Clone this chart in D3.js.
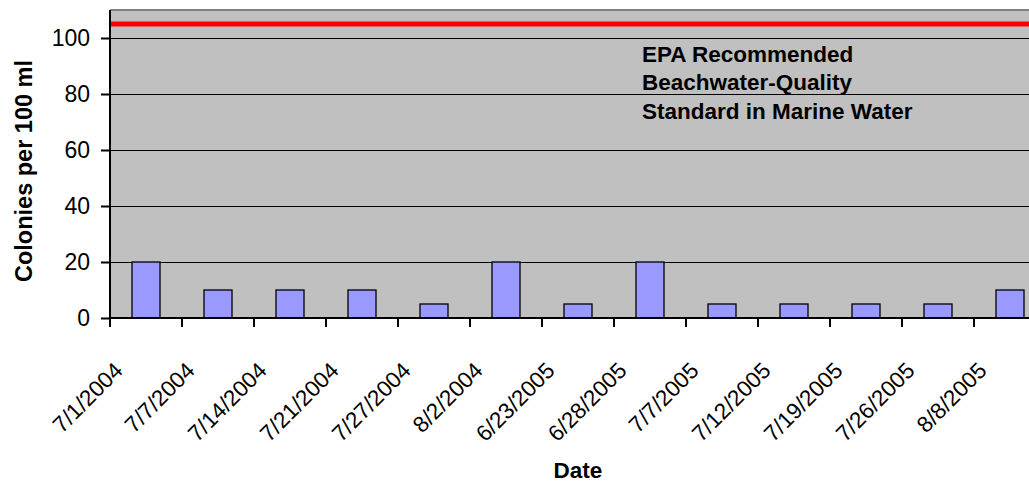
<!DOCTYPE html>
<html><head><meta charset="utf-8">
<script src="https://cdn.jsdelivr.net/npm/d3@7/dist/d3.min.js"></script>
<style>
html,body{margin:0;padding:0;background:#fff;overflow:hidden;}
svg{display:block;font-family:"Liberation Sans",Arial,sans-serif;}
</style></head>
<body>
<script>
const categories = ["7/1/2004","7/7/2004","7/14/2004","7/21/2004","7/27/2004","8/2/2004","6/23/2005","6/28/2005","7/7/2005","7/12/2005","7/19/2005","7/26/2005","8/8/2005"];
const colonies = [20,10,10,10,5,20,5,20,5,5,5,5,10];
const yTicks = [0,20,40,60,80,100];
const standardValue = 105;
const annotationLines = ["EPA Recommended","Beachwater-Quality","Standard in Marine Water"];
const yTitle = "Colonies per 100 ml";
const xTitle = "Date";

(function () {
const W = 1029, H = 482;
const pL = 110, pR = 1046, pT = 10, pB = 318;

const svg = d3.select("body").append("svg").attr("width", W).attr("height", H);

const x = d3.scaleBand().domain(categories).range([pL, pR]).paddingInner(0.611).paddingOuter(0.3055);
const y = d3.scaleLinear().domain([0, 110]).range([pB, pT]);

// plot background
svg.append("rect").attr("x", pL).attr("y", pT).attr("width", pR - pL).attr("height", pB - pT)
  .attr("fill", "#C0C0C0");
svg.append("line").attr("x1", pL).attr("x2", pR).attr("y1", pT).attr("y2", pT)
  .attr("stroke", "#808080").attr("stroke-width", 2);

// gridlines
svg.append("g").selectAll("line").data(yTicks.filter(d => d > 0)).join("line")
  .attr("x1", pL).attr("x2", pR).attr("y1", d => y(d) + 0.5).attr("y2", d => y(d) + 0.5)
  .attr("stroke", "#000").attr("stroke-width", 1).attr("shape-rendering", "crispEdges");

// bars
svg.append("g").selectAll("rect").data(colonies).join("rect")
  .attr("x", (d, i) => x(categories[i]))
  .attr("y", d => y(d))
  .attr("width", x.bandwidth())
  .attr("height", d => y(0) - y(d))
  .attr("fill", "#9999FF").attr("stroke", "#000").attr("stroke-width", 1.3);

// standard line
svg.append("line").attr("x1", pL).attr("x2", pR).attr("y1", y(standardValue)).attr("y2", y(standardValue))
  .attr("stroke", "#FF0000").attr("stroke-width", 5);

// y axis
const yAxis = d3.axisLeft(y).tickValues(yTicks).tickSize(9).tickPadding(11).tickSizeOuter(0);
const gy = svg.append("g").attr("transform", `translate(${pL},0)`).call(yAxis);
gy.select(".domain").attr("stroke", "#000").attr("stroke-width", 2).attr("d", `M0,${pT}V${pB}`);
gy.selectAll(".tick line").attr("stroke", "#000").attr("stroke-width", 2);
gy.selectAll(".tick text").attr("font-size", "23px").attr("fill", "#000").attr("font-family", "Liberation Sans, Arial, sans-serif");

// x axis
const xTickPos = categories.map(c => x(c) - (x.step() - x.bandwidth()) / 2);
const gx = svg.append("g");
gx.append("line").attr("x1", pL).attr("x2", pR).attr("y1", pB).attr("y2", pB)
  .attr("stroke", "#000").attr("stroke-width", 2);
gx.selectAll("line.tk").data(xTickPos).join("line").attr("class", "tk")
  .attr("x1", d => d).attr("x2", d => d).attr("y1", pB).attr("y2", pB + 9)
  .attr("stroke", "#000").attr("stroke-width", 2);
gx.selectAll("text").data(categories).join("text")
  .attr("transform", d => `translate(${x(d) + x.bandwidth() / 2 - 22},${372}) rotate(-45)`)
  .attr("text-anchor", "end")
  .attr("font-size", "22.5px")
  .attr("fill", "#000")
  .text(d => d);

// annotation
const ann = svg.append("text").attr("x", 642).attr("y", 62).attr("font-size", "22.5px").attr("font-weight", "bold").attr("fill", "#000");
ann.selectAll("tspan").data(annotationLines).join("tspan")
  .attr("x", 642).attr("y", (d, i) => [62, 90, 119][i]).text(d => d);

// titles
svg.append("text").attr("transform", `translate(32,171) rotate(-90)`).attr("text-anchor", "middle")
  .attr("font-size", "23.5px").attr("font-weight", "bold").attr("fill", "#000").text(yTitle);
svg.append("text").attr("x", 578).attr("y", 478).attr("text-anchor", "middle")
  .attr("font-size", "22.5px").attr("font-weight", "bold").attr("fill", "#000").text(xTitle);
})();
</script>
</body></html>
